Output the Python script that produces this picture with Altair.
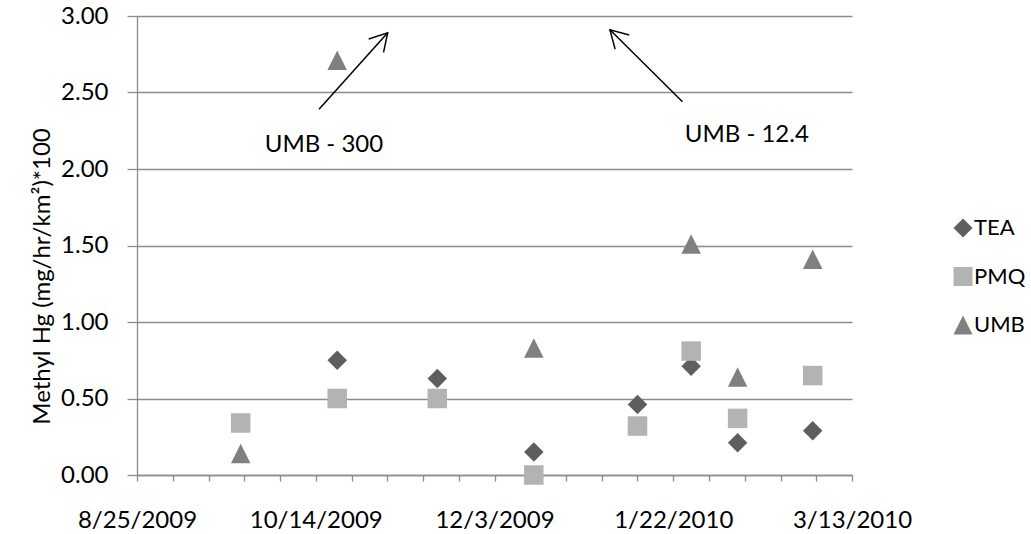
import json
import altair as alt
import pandas as pd

# ---------------- data ----------------
series = ["TEA", "PMQ", "UMB"]
sample_dates = ["2009-09-23", "2009-10-20", "2009-11-17", "2009-12-14",
                "2010-01-12", "2010-01-27", "2010-02-09", "2010-03-02"]
tea_values = [None, 0.75, 0.63, 0.15, 0.46, 0.71, 0.21, 0.29]
pmq_values = [0.34, 0.50, 0.50, 0.00, 0.32, 0.81, 0.37, 0.65]
umb_values = [0.14, 2.71, None, 0.83, None, 1.51, 0.64, 1.41]

x_start = "2009-08-25"
x_end = "2010-03-13"
major_labels = ["8/25/2009", "10/14/2009", "12/3/2009", "1/22/2010", "3/13/2010"]
y_ticks = [0.0, 0.5, 1.0, 1.5, 2.0, 2.5, 3.0]

note_text = ["UMB - 300", "UMB - 12.4"]
note_date = ["2009-10-16T07:00", "2010-02-11T14:00"]
note_value = [2.16, 2.22]
arrow_start_date = ["2009-10-14T22:00", "2010-01-24T14:00"]
arrow_start_value = [2.39, 2.44]
arrow_tip_date = ["2009-11-03T03:00", "2010-01-04T07:00"]
arrow_tip_value = [2.89, 2.91]

# ---------------- helpers ----------------
def ms(s):
    return int(pd.Timestamp(s, tz="UTC").timestamp() * 1000)

rows = []
for name, vals in zip(series, [tea_values, pmq_values, umb_values]):
    for d, v in zip(sample_dates, vals):
        if v is not None:
            rows.append({"t": ms(d), "v": v, "series": name})
pts = pd.DataFrame(rows)

arrows = pd.DataFrame({
    "t": [ms(d) for d in arrow_start_date],
    "v": arrow_start_value,
    "t2": [ms(d) for d in arrow_tip_date],
    "v2": arrow_tip_value,
})
notes = pd.DataFrame({"t": [ms(d) for d in note_date], "v": note_value, "label": note_text})

tick_values = [ms(d) for d in pd.date_range(x_start, x_end, freq="10D").strftime("%Y-%m-%d")]

FONT = "Lato"
GRAY = "#8c8c8c"
YTITLE = "Methyl Hg (mg/hr/km²)*100"
colors = ["#5e5e5e", "#b3b3b3", "#808080"]
shapes = ["diamond", "square", "M0,-1L1,1L-1,1Z"]

xscale = alt.Scale(type="utc", domain=[ms(x_start), ms(x_end)], nice=False)
yscale = alt.Scale(domain=[0, 3], nice=False, zero=True)

fmt = "utcFormat(datum.value, '%-m/%-d/%Y')"
xaxis = alt.Axis(
    values=tick_values, tickCount=100,
    labelExpr="indexof(" + json.dumps(major_labels) + ", " + fmt + ") >= 0 ? " + fmt + " : ''",
    tickSize=6, labelPadding=27, grid=False, domainColor=GRAY, tickColor=GRAY,
    domainWidth=1.3, tickWidth=1.3,
    labelFont=FONT, labelFontSize=24, labelColor="black", labelAngle=0,
    labelOverlap=False, labelFlush=False, labelBound=False, title=None,
)
yaxis = alt.Axis(
    values=y_ticks, format=".2f", tickSize=10, labelPadding=19,
    grid=True, gridColor=GRAY, gridWidth=1.3, domainColor=GRAY, tickColor=GRAY,
    domainWidth=1.3, tickWidth=1.3,
    labelFont=FONT, labelFontSize=24, labelColor="black",
    title=YTITLE, titleFont=FONT, titleFontSize=24,
    titleFontWeight="normal", titleColor="black", titleAngle=-90,
    titleX=-95, titleY=260, titleAlign="center", titleBaseline="middle",
)

legend = alt.Legend(
    title=None, orient="none", legendX=815, legendY=201, padding=0,
    labelFont=FONT, labelFontSize=22, labelColor="black", labelOffset=0,
    symbolSize=361, symbolStrokeWidth=0, symbolOpacity=1, rowPadding=26.5,
)

points = alt.Chart(pts).mark_point(filled=True, opacity=1, strokeWidth=0, size=380).encode(
    x=alt.X("t:T", scale=xscale, axis=xaxis, title=None),
    y=alt.Y("v:Q", scale=yscale, axis=yaxis, title=YTITLE),
    color=alt.Color("series:N", scale=alt.Scale(domain=series, range=colors), legend=legend),
    shape=alt.Shape("series:N", scale=alt.Scale(domain=series, range=shapes), legend=legend),
)

shafts = alt.Chart(arrows).mark_rule(color="black", strokeWidth=1.5).encode(
    x=alt.X("t:T", scale=xscale, title=None),
    x2="t2:T",
    y=alt.Y("v:Q", scale=yscale, title=YTITLE),
    y2="v2:Q",
)

heads = []
for i, ang in enumerate([42, 315]):
    heads.append(
        alt.Chart(arrows.iloc[[i]]).mark_point(
            shape="M-0.5,0.866L0,0L0.5,0.866", filled=False, stroke="black",
            strokeWidth=1.5, size=1600, angle=ang, opacity=1,
        ).encode(
            x=alt.X("t2:T", scale=xscale, title=None),
            y=alt.Y("v2:Q", scale=yscale, title=YTITLE),
        )
    )

texts = alt.Chart(notes).mark_text(
    font=FONT, fontSize=24, color="black", align="center", baseline="middle"
).encode(
    x=alt.X("t:T", scale=xscale, title=None),
    y=alt.Y("v:Q", scale=yscale, title=YTITLE),
    text="label:N",
)

chart = alt.layer(points, shafts, *heads, texts).properties(
    width=715, height=459,
    autosize=alt.AutoSizeParams(type="none"),
    padding={"left": 137, "top": 16, "right": 179, "bottom": 59},
    background="white",
).configure_view(strokeWidth=0)

chart.save("out.html", embed_options={"renderer": "svg", "actions": False})
